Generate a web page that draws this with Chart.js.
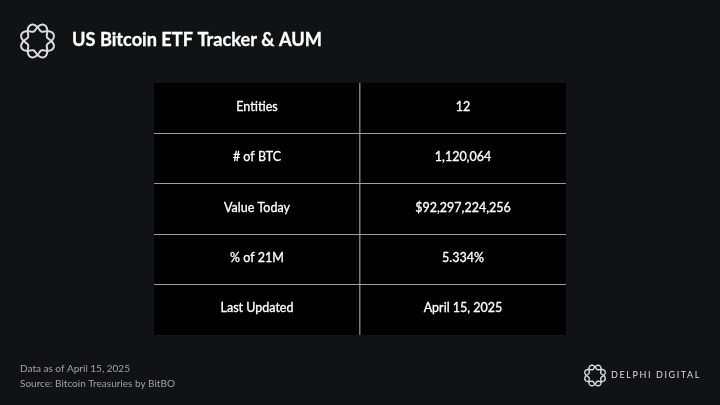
<!DOCTYPE html>
<html>
<head>
<meta charset="utf-8">
<style>
html,body{margin:0;padding:0;background:#101214;width:720px;height:405px;overflow:hidden}
#wrap{position:absolute;left:0;top:0;width:720px;height:405px}
</style>
<script src="https://cdn.jsdelivr.net/npm/chart.js@4"></script>
</head>
<body>
<div id="wrap"><canvas id="c" width="720" height="405"></canvas></div>
<script>
const titleText = "US Bitcoin ETF Tracker & AUM";
const columns = ["Metric", "Value"];
const rows = ["Entities", "# of BTC", "Value Today", "% of 21M", "Last Updated"];
const values = ["12", "1,120,064", "$92,297,224,256", "5.334%", "April 15, 2025"];
const footnotes = ["Data as of April 15, 2025", "Source: Bitcoin Treasuries by BitBO"];
const brand = "DELPHI DIGITAL";

function logo(ctx, cx, cy, R, A, lw) {
  ctx.save();
  ctx.translate(cx, cy);
  ctx.strokeStyle = "#dcdcdc";
  ctx.lineWidth = lw;
  for (const sign of [1, -1]) {
    ctx.beginPath();
    for (let k = 0; k <= 360; k += 2) {
      const t = k * Math.PI / 180;
      const r = R + sign * A * Math.sin(4 * t);
      const x = r * Math.cos(t), y = r * Math.sin(t);
      if (k === 0) ctx.moveTo(x, y); else ctx.lineTo(x, y);
    }
    ctx.closePath();
    ctx.stroke();
  }
  ctx.restore();
}

const tablePlugin = {
  id: "tablePlugin",
  beforeDraw(chart) {
    const { ctx, chartArea: a } = chart;
    ctx.save();
    ctx.fillStyle = "#101214";
    ctx.fillRect(0, 0, chart.width, chart.height);
    ctx.fillStyle = "#000000";
    ctx.fillRect(a.left, a.top, a.right - a.left, a.bottom - a.top);
    ctx.restore();
  },
  afterDraw(chart) {
    const { ctx } = chart;
    const heavy = (s, x, y, w) => {
      ctx.lineWidth = w;
      ctx.strokeText(s, x, y);
      ctx.fillText(s, x, y);
    };
    ctx.save();
    ctx.textBaseline = "middle";
    ctx.textAlign = "center";
    ctx.fillStyle = "#ffffff";
    ctx.strokeStyle = "#ffffff";
    ctx.font = "12.5px Lato";
    chart.getDatasetMeta(0).data.forEach((p, i) => heavy(rows[i], p.x, p.y - 1.5, 0.3));
    chart.getDatasetMeta(1).data.forEach((p, i) => heavy(values[i], p.x, p.y - 1.5, 0.3));

    ctx.textAlign = "left";
    ctx.font = "bold 18.2px Lato";
    heavy(titleText, 72, 40, 0.3);

    ctx.font = "10px Lato";
    ctx.fillStyle = "#a3a3a3";
    ctx.fillText(footnotes[0], 20, 368.5);
    ctx.fillText(footnotes[1], 20, 383.5);

    ctx.fillStyle = "#dedede";
    ctx.font = "9px Lato";
    ctx.letterSpacing = "1.6px";
    ctx.fillText(brand, 611, 375.5);
    ctx.letterSpacing = "0px";
    ctx.restore();

    logo(ctx, 37.5, 41, 13.8, 3.6, 2);
    logo(ctx, 595, 375.5, 8.6, 2.3, 1.4);
  }
};

new Chart(document.getElementById("c"), {
  type: "scatter",
  data: {
    datasets: [
      { data: rows.map(r => ({ x: columns[0], y: r })), pointRadius: 0 },
      { data: rows.map(r => ({ x: columns[1], y: r })), pointRadius: 0 }
    ]
  },
  options: {
    responsive: false,
    animation: false,
    devicePixelRatio: 1,
    layout: { padding: { left: 154, right: 154, top: 83, bottom: 70 } },
    plugins: { legend: { display: false }, tooltip: { enabled: false }, title: { display: false } },
    scales: {
      x: {
        type: "category", labels: columns, offset: true,
        ticks: { display: false },
        border: { display: false },
        grid: {
          offset: true, drawTicks: false, lineWidth: 1.5,
          color: c => (c.index === 1 ? "#7c7c7c" : "rgba(0,0,0,0)")
        }
      },
      y: {
        type: "category", labels: rows, offset: true,
        ticks: { display: false },
        border: { display: false },
        grid: {
          offset: true, drawTicks: false, lineWidth: 1,
          color: c => (c.index >= 1 && c.index <= 4 ? "#a0a0a0" : "rgba(0,0,0,0)")
        }
      }
    }
  },
  plugins: [tablePlugin]
});
</script>
</body>
</html>
